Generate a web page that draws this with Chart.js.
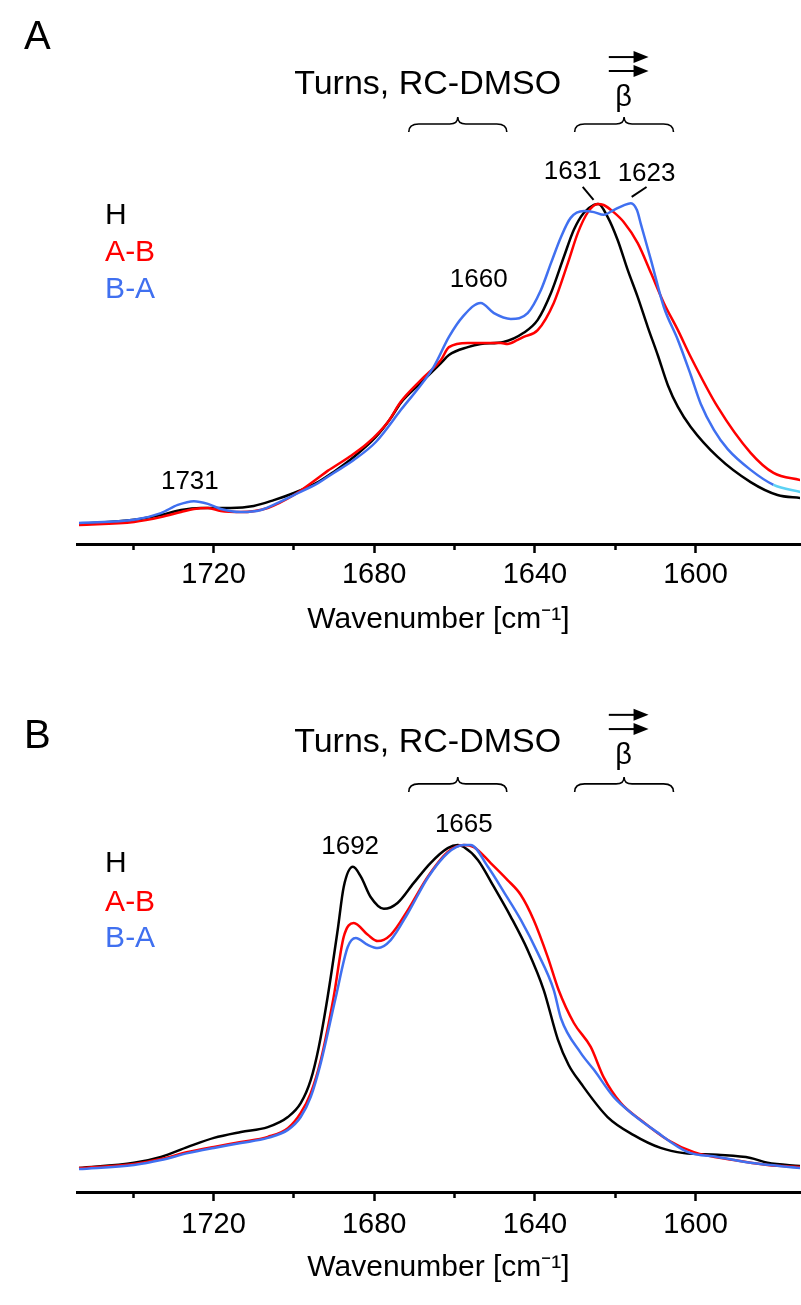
<!DOCTYPE html>
<html>
<head>
<meta charset="utf-8">
<script src="https://cdn.jsdelivr.net/npm/chart.js@4.4.1/dist/chart.umd.min.js"></script>
<style>
  body { margin: 0; background: #fff; }
  #wrap { position: relative; width: 801px; height: 1305px; }
  canvas { position: absolute; left: 0; }
  #chartA { top: 0; }
  #chartB { top: 648px; }
</style>
</head>
<body>
<div id="wrap">
  <canvas id="chartA" width="801" height="648"></canvas>
  <canvas id="chartB" width="801" height="657"></canvas>
</div>
<script>
// ====== DATA (wavenumber in cm-1, absorbance normalised to peak = 1) ======
const seriesNames = ['H', 'A-B', 'B-A'];
const tickValues = [1740, 1720, 1700, 1680, 1660, 1640, 1620, 1600];

// Panel A
const aH_wn  = [1753.5, 1739.8, 1733.1, 1728.1, 1723.2, 1715.7, 1710.0, 1705.0, 1700.0, 1694.0, 1690.1, 1685.1, 1679.6, 1675.9, 1673.4, 1668.4, 1663.4, 1661.4, 1656.7, 1653.5, 1647.8, 1642.8, 1639.3, 1636.0, 1632.8, 1630.3, 1627.8, 1625.3, 1624.2, 1621.9, 1619.4, 1616.9, 1614.4, 1611.9, 1609.4, 1606.9, 1604.4, 1601.2, 1594.5, 1586.3, 1579.6, 1573.9];
const aH_val = [0.059, 0.071, 0.085, 0.100, 0.106, 0.106, 0.112, 0.129, 0.150, 0.182, 0.212, 0.256, 0.315, 0.370, 0.415, 0.474, 0.532, 0.556, 0.579, 0.588, 0.594, 0.621, 0.659, 0.738, 0.844, 0.924, 0.974, 0.997, 1.000, 0.962, 0.894, 0.806, 0.726, 0.638, 0.555, 0.467, 0.403, 0.344, 0.256, 0.182, 0.144, 0.135];

const aAB_wn  = [1753.5, 1739.8, 1733.1, 1728.1, 1724.9, 1721.4, 1718.2, 1713.2, 1706.5, 1700.0, 1694.0, 1691.6, 1686.6, 1681.6, 1676.6, 1673.4, 1668.4, 1663.4, 1661.4, 1656.7, 1648.5, 1646.8, 1644.3, 1642.8, 1639.3, 1635.3, 1631.8, 1629.3, 1626.8, 1624.4, 1622.9, 1620.4, 1617.9, 1614.4, 1611.1, 1607.9, 1604.4, 1601.2, 1594.5, 1586.3, 1580.6, 1573.9];
const aAB_val = [0.056, 0.065, 0.079, 0.094, 0.103, 0.106, 0.097, 0.094, 0.106, 0.144, 0.194, 0.215, 0.253, 0.297, 0.359, 0.418, 0.482, 0.541, 0.579, 0.591, 0.591, 0.588, 0.600, 0.609, 0.629, 0.709, 0.826, 0.915, 0.976, 1.000, 0.997, 0.976, 0.947, 0.885, 0.797, 0.709, 0.629, 0.550, 0.403, 0.268, 0.209, 0.188];

const aBA_wn  = [1753.5, 1739.8, 1733.1, 1728.9, 1724.9, 1721.4, 1718.2, 1713.2, 1708.2, 1704.0, 1700.0, 1694.0, 1690.1, 1685.1, 1679.6, 1673.4, 1665.2, 1661.4, 1658.0, 1653.5, 1650.2, 1646.0, 1641.8, 1638.5, 1636.0, 1633.5, 1631.1, 1627.8, 1625.3, 1622.9, 1620.4, 1617.9, 1616.1, 1614.6, 1613.6, 1611.1, 1607.9, 1604.4, 1601.2, 1598.7, 1595.4, 1592.0, 1586.3, 1580.6, 1573.9];
const aBA_val = [0.062, 0.071, 0.091, 0.115, 0.126, 0.118, 0.103, 0.094, 0.100, 0.121, 0.144, 0.179, 0.209, 0.247, 0.300, 0.394, 0.521, 0.609, 0.668, 0.709, 0.679, 0.662, 0.679, 0.747, 0.826, 0.903, 0.959, 0.979, 0.976, 0.968, 0.982, 0.996, 1.002, 0.982, 0.940, 0.835, 0.697, 0.600, 0.497, 0.412, 0.335, 0.279, 0.218, 0.174, 0.153];

// Panel B
const bH_wn  = [1753.5, 1739.8, 1733.1, 1726.4, 1719.9, 1713.2, 1706.5, 1701.5, 1698.3, 1695.8, 1693.8, 1691.6, 1689.1, 1687.6, 1685.3, 1683.3, 1680.9, 1677.6, 1674.2, 1670.2, 1666.0, 1661.7, 1659.2, 1657.7, 1654.2, 1650.2, 1646.0, 1641.8, 1637.8, 1634.3, 1631.6, 1628.6, 1621.9, 1615.4, 1608.7, 1602.9, 1594.5, 1586.3, 1582.1, 1573.9];
const bH_val = [0.069, 0.084, 0.101, 0.130, 0.156, 0.173, 0.187, 0.216, 0.256, 0.323, 0.418, 0.562, 0.755, 0.879, 0.937, 0.908, 0.850, 0.816, 0.833, 0.890, 0.948, 0.991, 1.000, 0.994, 0.957, 0.879, 0.793, 0.697, 0.582, 0.440, 0.366, 0.314, 0.216, 0.164, 0.127, 0.112, 0.107, 0.098, 0.084, 0.075];

const bAB_wn  = [1753.5, 1739.8, 1733.1, 1726.4, 1719.9, 1713.2, 1706.5, 1701.5, 1698.3, 1695.8, 1693.3, 1690.1, 1687.6, 1685.1, 1681.6, 1679.1, 1675.9, 1671.6, 1666.7, 1661.7, 1657.7, 1655.2, 1651.0, 1646.8, 1643.5, 1640.3, 1636.8, 1634.1, 1630.3, 1626.1, 1622.9, 1618.6, 1613.6, 1606.9, 1600.4, 1590.5, 1582.1, 1573.9];
const bAB_val = [0.069, 0.081, 0.095, 0.115, 0.130, 0.144, 0.159, 0.184, 0.228, 0.285, 0.380, 0.562, 0.735, 0.775, 0.741, 0.723, 0.741, 0.813, 0.908, 0.980, 1.000, 0.994, 0.948, 0.899, 0.856, 0.784, 0.677, 0.582, 0.487, 0.418, 0.331, 0.256, 0.207, 0.150, 0.115, 0.092, 0.078, 0.072];

const bBA_wn  = [1753.5, 1739.8, 1733.1, 1726.4, 1719.9, 1713.2, 1706.5, 1701.5, 1698.3, 1695.8, 1693.3, 1689.6, 1686.6, 1684.6, 1681.6, 1679.1, 1675.9, 1671.6, 1666.7, 1661.7, 1657.7, 1656.0, 1651.7, 1647.6, 1643.5, 1639.3, 1635.3, 1633.5, 1628.6, 1625.3, 1620.4, 1615.4, 1610.4, 1601.9, 1594.5, 1586.3, 1573.9];
const bBA_val = [0.066, 0.078, 0.092, 0.112, 0.127, 0.141, 0.156, 0.179, 0.216, 0.274, 0.372, 0.560, 0.706, 0.732, 0.712, 0.703, 0.726, 0.804, 0.905, 0.977, 1.000, 1.000, 0.937, 0.862, 0.784, 0.689, 0.582, 0.500, 0.401, 0.352, 0.274, 0.222, 0.179, 0.115, 0.101, 0.084, 0.069];
// ====================

const FONT = '"Liberation Sans", Arial, Helvetica, sans-serif';
const COLORS = { 'H': '#000000', 'A-B': '#ff0000', 'B-A': '#4070f0' };
const CYAN = '#5cd2f4';

function pts(wn, val) { return wn.map((x, i) => ({ x, y: val[i] })); }

function dataset(name, wn, val, order, tailCyan) {
  const ds = {
    label: name,
    data: pts(wn, val),
    borderColor: COLORS[name],
    borderWidth: 2.5,
    pointRadius: 0,
    cubicInterpolationMode: 'monotone',
    fill: false,
    order
  };
  if (tailCyan) ds.segment = { borderColor: c => c.p0.parsed.x <= 1581 ? CYAN : undefined };
  return ds;
}

// Curly brace over a band
function brace(ctx, x1, x2, y) {
  const xm = (x1 + x2) / 2;
  ctx.beginPath();
  ctx.moveTo(x1, y + 8);
  ctx.quadraticCurveTo(x1, y, x1 + 10, y);
  ctx.lineTo(xm - 8, y);
  ctx.quadraticCurveTo(xm, y, xm, y - 7);
  ctx.quadraticCurveTo(xm, y, xm + 8, y);
  ctx.lineTo(x2 - 10, y);
  ctx.quadraticCurveTo(x2, y, x2, y + 8);
  ctx.stroke();
}

function arrow(ctx, x1, x2, y) {
  ctx.beginPath();
  ctx.moveTo(x1, y);
  ctx.lineTo(x2 - 12, y);
  ctx.stroke();
  ctx.beginPath();
  ctx.moveTo(x2, y);
  ctx.lineTo(x2 - 15, y - 6);
  ctx.lineTo(x2 - 15, y + 6);
  ctx.closePath();
  ctx.fill();
}

// Annotation plugin: texts, braces, arrows placed through the chart scales
function makeNotes(spec) {
  return {
    id: 'notes',
    afterDatasetsDraw(chart) {
      const { ctx, scales: { x, y } } = chart;
      const X = v => x.getPixelForValue(v);
      const Y = v => y.getPixelForValue(v);
      ctx.save();
      ctx.fillStyle = '#000';
      ctx.strokeStyle = '#000';
      ctx.textBaseline = 'middle';

      // panel letter
      ctx.font = '40px ' + FONT;
      ctx.textAlign = 'left';
      ctx.fillText(spec.letter, 24, spec.letterY);

      // group title
      ctx.font = '34px ' + FONT;
      ctx.textAlign = 'center';
      ctx.fillText('Turns, RC-DMSO', X(spec.title[0]), Y(spec.title[1]));

      // beta + arrows
      ctx.font = '29px ' + FONT;
      ctx.fillText('β', X(spec.beta[0]), Y(spec.beta[1]));
      ctx.lineWidth = 2;
      spec.arrows.forEach(a => arrow(ctx, X(a[0]), X(a[1]), Y(a[2])));

      // braces
      ctx.lineWidth = 1.6;
      spec.braces.forEach(b => brace(ctx, X(b[0]), X(b[1]), Y(b[2])));

      // peak labels
      ctx.font = '26px ' + FONT;
      spec.labels.forEach(l => ctx.fillText(l[0], X(l[1]), Y(l[2])));
      ctx.lineWidth = 2;
      spec.leaders.forEach(l => {
        ctx.beginPath();
        ctx.moveTo(X(l[0]), Y(l[1]));
        ctx.lineTo(X(l[2]), Y(l[3]));
        ctx.stroke();
      });

      // legend
      ctx.font = '30px ' + FONT;
      ctx.textAlign = 'left';
      seriesNames.forEach((n, i) => {
        ctx.fillStyle = COLORS[n];
        ctx.fillText(n, X(spec.legend[0]), Y(spec.legend[1][i]));
      });
      ctx.restore();
    }
  };
}

const specA = {
  letter: 'A', letterY: 38,
  title: [1666.7, 1.351],
  beta: [1617.9, 1.312],
  arrows: [[1621.6, 1611.7, 1.432], [1621.6, 1611.7, 1.391]],
  braces: [[1671.4, 1647.0, 1.235], [1630.1, 1605.5, 1.235]],
  labels: [['1631', 1630.6, 1.094], ['1623', 1612.2, 1.088], ['1660', 1654.0, 0.776], ['1731', 1725.9, 0.182]],
  leaders: [[1628.1, 1.050, 1625.4, 1.012], [1612.2, 1.050, 1615.9, 1.021]],
  legend: [1747.0, [0.965, 0.856, 0.747]]
};

const specB = {
  letter: 'B', letterY: 89,
  title: [1666.7, 1.295],
  beta: [1617.9, 1.256],
  arrows: [[1621.6, 1611.7, 1.375], [1621.6, 1611.7, 1.334]],
  braces: [[1671.4, 1647.0, 1.176], [1630.1, 1605.5, 1.176]],
  labels: [['1692', 1686.0, 0.994], ['1665', 1657.7, 1.058]],
  leaders: [],
  legend: [1747.0, [0.945, 0.833, 0.729]]
};

function makeChart(id, sets, yMax, padBottom, labelPad, spec) {
  return new Chart(document.getElementById(id), {
    type: 'line',
    data: { datasets: sets },
    options: {
      responsive: false,
      animation: false,
      devicePixelRatio: 1,
      layout: { padding: { left: 77, right: 1, top: 20, bottom: padBottom } },
      plugins: { legend: { display: false }, tooltip: { enabled: false } },
      scales: {
        x: {
          type: 'linear',
          reverse: true,
          min: 1574,
          max: 1754,
          afterBuildTicks: ax => { ax.ticks = tickValues.map(v => ({ value: v })); },
          afterFit: ax => { ax.height = 94; },
          ticks: {
            autoSkip: false,
            maxRotation: 0,
            padding: labelPad,
            color: '#000',
            font: { size: 29, family: FONT },
            callback: v => (v % 40 === 0 ? String(v) : '')
          },
          grid: {
            drawOnChartArea: false,
            drawTicks: true,
            tickLength: 9,
            tickWidth: 2.5,
            tickColor: '#000',
            tickBorderDash: c => (c.tick && c.tick.value % 40 !== 0 ? [4, 60] : [])
          },
          border: { display: true, color: '#000', width: 3 },
          title: {
            display: true,
            text: 'Wavenumber [cm⁻¹]',
            color: '#000',
            font: { size: 30, family: FONT },
            padding: { top: 6, bottom: 0 }
          }
        },
        y: { display: false, min: 0, max: yMax }
      }
    },
    plugins: [makeNotes(spec)]
  });
}

makeChart('chartA', [
  dataset('H', aH_wn, aH_val, 2),
  dataset('A-B', aAB_wn, aAB_val, 1),
  dataset('B-A', aBA_wn, aBA_val, 0, true)
], 1.541, 10, 5, specA);

makeChart('chartB', [
  dataset('H', bH_wn, bH_val, 2),
  dataset('A-B', bAB_wn, bAB_val, 1),
  dataset('B-A', bBA_wn, bBA_val, 0)
], 1.510, 19, 6.5, specB);
</script>
</body>
</html>
